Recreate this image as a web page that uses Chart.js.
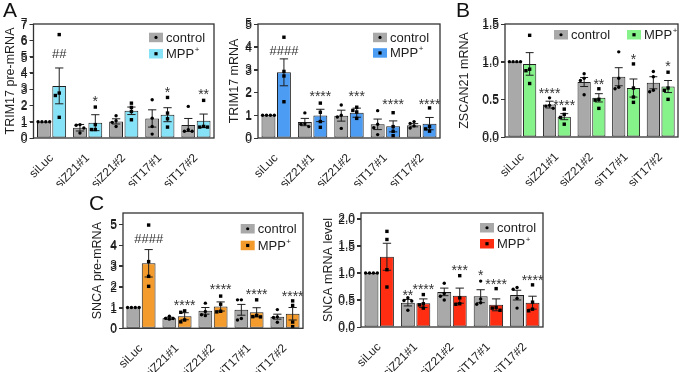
<!DOCTYPE html>
<html><head><meta charset="utf-8">
<script src="https://cdn.jsdelivr.net/npm/chart.js@4"></script>
<style>
html,body{margin:0;padding:0;background:#fff}
body{width:685px;height:372px;overflow:hidden;position:relative;font-family:"Liberation Sans",Arial,sans-serif}
canvas{position:absolute;display:block;z-index:1}
.lt{position:absolute;font-size:21px;line-height:21px;color:#111;z-index:2}
.yt{position:absolute;font-size:12px;line-height:14px;height:14px;color:#1e1e1e;text-align:right;white-space:nowrap;z-index:5}
.tm{position:absolute;width:4px;height:1px;background:#333;z-index:5}
</style></head><body>
<div class="lt" style="left:3px;top:-1px">A</div>
<div class="lt" style="left:456px;top:-1px">B</div>
<div class="lt" style="left:89px;top:192px">C</div>
<canvas id="cA1" width="218" height="186" style="left:0px;top:0px"></canvas>
<canvas id="cA2" width="220" height="186" style="left:225px;top:0px"></canvas>
<canvas id="cB" width="230" height="186" style="left:455px;top:0px"></canvas>
<canvas id="cC1" width="222" height="182" style="left:88px;top:190px"></canvas>
<canvas id="cC2" width="232" height="182" style="left:318px;top:190px"></canvas>
<script>
// ---------------- DATA ----------------
const categories = ['siLuc','siZ21#1','siZ21#2','siT17#1','siT17#2'];
const seriesNames = ['control','MPP'];

// A left: TRIM17 pre-mRNA
const a1CtrlMean = [1.0, 0.63, 1.02, 1.2, 0.8];
const a1CtrlErr  = [0, 0.2, 0.16, 0.53, 0.4];
const a1CtrlPts  = [[1,1,1,1],[0.82,0.78,0.61,0.31],[1.37,1.06,0.96,0.71],[2.35,1.22,0.71,0.24],[1.94,0.51,0.41,0.41]];
const a1MppMean  = [3.2, 0.94, 1.67, 1.43, 1.06];
const a1MppErr   = [1.1, 0.49, 0.23, 0.43, 0.41];
const a1MppPts   = [[6.35,2.76,2.61,1.27],[1.9,0.82,0.52,0.52],[2.14,1.88,1.63,1.12],[2.49,1.53,1.18,0.67],[2.31,0.71,0.67,0.67]];
const a1Ticks = [0,1,2,3,4,5,6,7];
const a1TickLabels = ['0','1','2','3','4','5','6','7'];
const a1Notes = [['##',0,1,5.2],['*',1,1,2.45],['*',3,1,3.02],['**',4,1,2.9]];

// A right: TRIM17 mRNA
const a2CtrlMean = [1.0, 0.7, 0.98, 0.6, 0.56];
const a2CtrlErr  = [0, 0.16, 0.24, 0.23, 0.07];
const a2CtrlPts  = [[1,1,1,1],[1.1,0.62,0.6,0.5],[1.45,1.0,0.92,0.42],[1.2,0.6,0.45,0.15],[0.72,0.64,0.53,0.44]];
const a2MppMean  = [2.88, 0.99, 1.11, 0.51, 0.63];
const a2MppErr   = [0.59, 0.27, 0.2, 0.24, 0.27];
const a2MppPts   = [[4.42,2.92,2.72,1.59],[1.53,1.13,0.72,0.47],[1.35,1.21,1.14,0.86],[1.11,0.5,0.29,0.1],[1.32,0.5,0.4,0.3]];
const a2Ticks = [0,1,2,3,4,5];
const a2TickLabels = ['0','1','2','3','4','5'];
const a2Notes = [['####',0,1,3.86],['****',1,1,1.96],['***',2,1,1.96],['****',3,1,1.62],['****',4,1,1.62]];

// B: ZSCAN21 mRNA
const bCtrlMean = [1.0, 0.43, 0.73, 0.8, 0.72];
const bCtrlErr  = [0, 0.045, 0.06, 0.12, 0.08];
const bCtrlPts  = [[1,1,1,1],[0.52,0.42,0.41,0.38],[0.84,0.78,0.75,0.56],[1.13,0.78,0.66,0.64],[0.87,0.8,0.62,0.6]];
const bMppMean  = [0.97, 0.27, 0.52, 0.65, 0.67];
const bMppErr   = [0.15, 0.04, 0.055, 0.12, 0.08];
const bMppPts   = [[1.35,0.9,0.88,0.71],[0.37,0.3,0.26,0.17],[0.64,0.5,0.49,0.38],[0.97,0.65,0.53,0.46],[0.86,0.65,0.62,0.5]];
const bTicks = [0,0.5,1,1.5];
const bTickLabels = ['0.0','0.5','1.0','1.5'];
const bNotes = [['****',1,0,0.62],['****',1,1,0.47],['**',2,1,0.75],['*',3,1,1.08],['*',4,1,0.98]];

// C left: SNCA pre-mRNA
const c1CtrlMean = [1.0, 0.48, 0.84, 0.89, 0.56];
const c1CtrlErr  = [0, 0.05, 0.16, 0.26, 0.12];
const c1CtrlPts  = [[1,1,1,1],[0.58,0.48,0.47,0.44],[1.21,0.81,0.65,0.61],[1.37,1.37,0.47,0.4],[0.9,0.55,0.52,0.29]];
const c1MppMean  = [3.13, 0.58, 1.05, 0.77, 0.7];
const c1MppErr   = [0.66, 0.17, 0.22, 0.22, 0.3];
const c1MppPts   = [[4.97,3.21,2.5,2.02],[0.84,0.77,0.4,0.31],[1.55,1.16,0.82,0.79],[1.37,0.62,0.56,0.55],[1.32,1.1,0.3,0.08]];
const c1Ticks = [0,1,2,3,4,5];
const c1TickLabels = ['0','1','2','3','4','5'];
const c1Notes = [['####',0,1,4.35],['****',1,1,1.29],['****',2,1,2.05],['****',3,1,1.8],['****',4,1,1.69]];

// C right: SNCA mRNA level
const c2CtrlMean = [1.0, 0.45, 0.65, 0.57, 0.59];
const c2CtrlErr  = [0, 0.06, 0.07, 0.12, 0.09];
const c2CtrlPts  = [[1,1,1,1],[0.54,0.49,0.48,0.31],[0.81,0.62,0.57,0.5],[0.85,0.52,0.45,0.42],[0.73,0.7,0.53,0.35]];
const c2MppMean  = [1.3, 0.44, 0.58, 0.41, 0.45];
const c2MppErr   = [0.25, 0.08, 0.14, 0.11, 0.12];
const c2MppPts   = [[1.77,1.62,1.06,0.74],[0.6,0.43,0.41,0.35],[0.95,0.54,0.43,0.42],[0.71,0.36,0.35,0.31],[0.78,0.46,0.33,0.3]];
const c2Ticks = [0,0.5,1,1.5,2];
const c2TickLabels = ['0.0','0.5','1.0','1.5','2.0'];
const c2Notes = [['**',1,0,0.65],['****',1,1,0.76],['***',2,1,1.11],['*',3,0,1.02],['****',3,1,0.86],['****',4,1,0.93]];

// ---------------- STYLE ----------------
const FONT = '"Liberation Sans", Arial, sans-serif';
const GRAY = '#a9a9a9';
const INK = '#1e1e1e';
const TIE = [-0.42,-0.14,0.14,0.42];
const PANELS = {};

function pointOffsets(vals, ys, w){
  const pys = vals.map(v=>ys.getPixelForValue(v));
  if (vals.every(v=>v===vals[0])) return TIE.map(f=>f*w);
  const order = pys.map((p,i)=>i).sort((a,b)=>pys[a]-pys[b]);
  const cands=[0,-0.28,0.28,-0.42,0.42,-0.14,0.14];
  const placed=[], res=[];
  order.forEach(i=>{
    let best=null;
    for(const c of cands){const px=c*w; if(placed.every(p=>Math.hypot(p[0]-px,p[1]-pys[i])>=3.6)){best=px;break;}}
    if(best===null) best=0;
    placed.push([best,pys[i]]); res[i]=best;
  });
  return res;
}

const deco = {
  id:'deco',
  afterDraw(chart){
    const p=PANELS[chart.canvas.id];
    const ctx=chart.ctx, ys=chart.scales.y, ca=chart.chartArea;
    ctx.save();
    chart.data.datasets.forEach((ds,di)=>{
      const meta=chart.getDatasetMeta(di);
      const errs = di===0? p.ce : p.me, pts = di===0? p.cp : p.mp;
      meta.data.forEach((bar,i)=>{
        const x=bar.x, w=bar.width, m=ds.data[i], e=errs[i];
        ctx.strokeStyle=INK; ctx.lineWidth=1;
        if(e>0){
          const yt=ys.getPixelForValue(m+e), yb=ys.getPixelForValue(Math.max(0,m-e)), cw=w*0.3;
          ctx.beginPath();
          ctx.moveTo(x,yt); ctx.lineTo(x,yb);
          ctx.moveTo(x-cw,yt); ctx.lineTo(x+cw,yt);
          ctx.moveTo(x-cw,yb); ctx.lineTo(x+cw,yb);
          ctx.stroke();
        }
        const vals=pts[i], offs=pointOffsets(vals,ys,w);
        ctx.fillStyle='#000';
        vals.forEach((v,k)=>{
          const px=x+offs[k], py=ys.getPixelForValue(v);
          if(di===0){ctx.beginPath();ctx.arc(px,py,1.7,0,Math.PI*2);ctx.fill();}
          else ctx.fillRect(px-1.7,py-1.7,3.4,3.4);
        });
      });
    });
    ctx.fillStyle='#333'; ctx.textAlign='center'; ctx.textBaseline='alphabetic';
    p.notes.forEach(([t,cat,di,v])=>{
      const bar=chart.getDatasetMeta(di).data[cat];
      const py=ys.getPixelForValue(v);
      if(t[0]==='*'){ctx.font='14px '+FONT; ctx.fillText(t,bar.x,py+8);}
      else {ctx.font='13px '+FONT; ctx.fillText(t,bar.x,py+4.8);}
    });
    const L=p.legend;
    const items=[[GRAY,0,'control'],[p.color,1,'MPP']];
    items.forEach(([col,di,txt],k)=>{
      const bx = ca.left + L.x + (L.horiz? k*L.dx : 0);
      const by = ca.top + L.y + (L.horiz? 0 : k*L.dy);
      ctx.fillStyle=col; ctx.fillRect(bx,by,14,9.5);
      ctx.fillStyle='#000';
      const cx=bx+7, cy=by+4.75;
      if(di===0){ctx.beginPath();ctx.arc(cx,cy,1.6,0,Math.PI*2);ctx.fill();}
      else ctx.fillRect(cx-1.6,cy-1.6,3.2,3.2);
      ctx.fillStyle=INK; ctx.textAlign='left'; ctx.textBaseline='middle';
      ctx.font='13px '+FONT;
      ctx.fillText(txt,bx+17,cy+0.5);
      if(di===1){
        const tw=ctx.measureText(txt).width;
        ctx.font='8px '+FONT;
        ctx.fillText('+',bx+17+tw+0.5,cy-4);
      }
    });
    ctx.strokeStyle='#333'; ctx.lineWidth=1.3;
    ctx.strokeRect(ca.left,ca.top,ca.right-ca.left,ca.bottom-ca.top);
    ctx.restore();
  }
};

function panel(id, p){
  PANELS[id]=p;
  return new Chart(document.getElementById(id), {
    type:'bar',
    data:{labels:categories, datasets:[
      {label:seriesNames[0], data:p.cm, backgroundColor:GRAY, borderColor:INK, borderWidth:1, borderSkipped:false, categoryPercentage:0.85, barPercentage:0.9},
      {label:seriesNames[1], data:p.mm, backgroundColor:p.color, borderColor:INK, borderWidth:1, borderSkipped:false, categoryPercentage:0.85, barPercentage:0.9}
    ]},
    options:{
      responsive:false, animation:false, devicePixelRatio:1,
      layout:{padding:{top:p.top, right:p.right, left:0, bottom:0}},
      plugins:{legend:{display:false}, tooltip:{enabled:false}},
      scales:{
        x:{grid:{display:false}, border:{display:false},
           ticks:{autoSkip:false, maxRotation:45, minRotation:45, padding:5, color:INK, font:{family:FONT,size:12}},
           afterFit:s=>{s.height=p.xh;}},
        y:{min:0, max:p.max,
           ticks:{autoSkip:false, stepSize:p.ticks[1]-p.ticks[0], includeBounds:false, color:INK, padding:2,
                  font:{family:FONT,size:12},
                  callback:(v)=>{const k=p.ticks.findIndex(t=>Math.abs(t-v)<1e-6); return k<0?'':p.labels[k];}},
           grid:{display:true, drawOnChartArea:false, drawTicks:true, tickLength:4, color:'#333'},
           border:{display:false},
           title:{display:true, text:p.title, color:INK, font:{family:FONT,size:12.5}, padding:{top:p.tpad,bottom:0}},
           afterFit:s=>{s.width=p.yw;}}
      }
    },
    plugins:[deco]
  });
}

// y-axis tick labels also as page text, placed through each chart's y scale
function yAxisText(chart){
  const p=PANELS[chart.canvas.id], ys=chart.scales.y, ca=chart.chartArea;
  const ox=chart.canvas.offsetLeft, oy=chart.canvas.offsetTop;
  p.ticks.forEach((v,k)=>{
    const py=oy+Math.round(ys.getPixelForValue(v));
    const tm=document.createElement('div'); tm.className='tm';
    tm.style.left=(ox+ca.left-4)+'px'; tm.style.top=py+'px';
    document.body.appendChild(tm);
    const lb=document.createElement('div'); lb.className='yt';
    lb.textContent=p.labels[k];
    lb.style.right=(685-(ox+ca.left-6))+'px'; lb.style.top=(py-6.5)+'px';
    document.body.appendChild(lb);
  });
}

const charts=[
 panel('cA1',{cm:a1CtrlMean,ce:a1CtrlErr,cp:a1CtrlPts,mm:a1MppMean,me:a1MppErr,mp:a1MppPts,color:'#86e3f7',
  ticks:a1Ticks,labels:a1TickLabels,notes:a1Notes,max:7,title:'TRIM17 pre-mRNA',
  top:24,right:4,yw:33.5,xh:48,tpad:3,legend:{x:115.5,y:8.7,dy:16.3}}),
 panel('cA2',{cm:a2CtrlMean,ce:a2CtrlErr,cp:a2CtrlPts,mm:a2MppMean,me:a2MppErr,mp:a2MppPts,color:'#4c9cf3',
  ticks:a2Ticks,labels:a2TickLabels,notes:a2Notes,max:5,title:'TRIM17 mRNA',
  top:24,right:5,yw:33,xh:48,tpad:2,legend:{x:115,y:8.7,dy:15.5}}),
 panel('cB',{cm:bCtrlMean,ce:bCtrlErr,cp:bCtrlPts,mm:bMppMean,me:bMppErr,mp:bMppPts,color:'#86f38a',
  ticks:bTicks,labels:bTickLabels,notes:bNotes,max:1.5,title:'ZSCAN21 mRNA',
  top:24,right:7,yw:50,xh:49,tpad:2,legend:{x:49,y:6,horiz:true,dx:73}}),
 panel('cC1',{cm:c1CtrlMean,ce:c1CtrlErr,cp:c1CtrlPts,mm:c1MppMean,me:c1MppErr,mp:c1MppPts,color:'#f39b2c',
  ticks:c1Ticks,labels:c1TickLabels,notes:c1Notes,max:5.55,title:'SNCA pre-mRNA',
  top:23,right:7,yw:35,xh:43.7,tpad:2,legend:{x:117.7,y:11,dy:16.7}}),
 panel('cC2',{cm:c2CtrlMean,ce:c2CtrlErr,cp:c2CtrlPts,mm:c2MppMean,me:c2MppErr,mp:c2MppPts,color:'#ff2d12',
  ticks:c2Ticks,labels:c2TickLabels,notes:c2Notes,max:2.11,title:'SNCA mRNA level',
  top:23,right:7,yw:43,xh:45,tpad:3,legend:{x:119,y:10,dy:16}})
];
charts.forEach(yAxisText);
</script>
</body></html>
